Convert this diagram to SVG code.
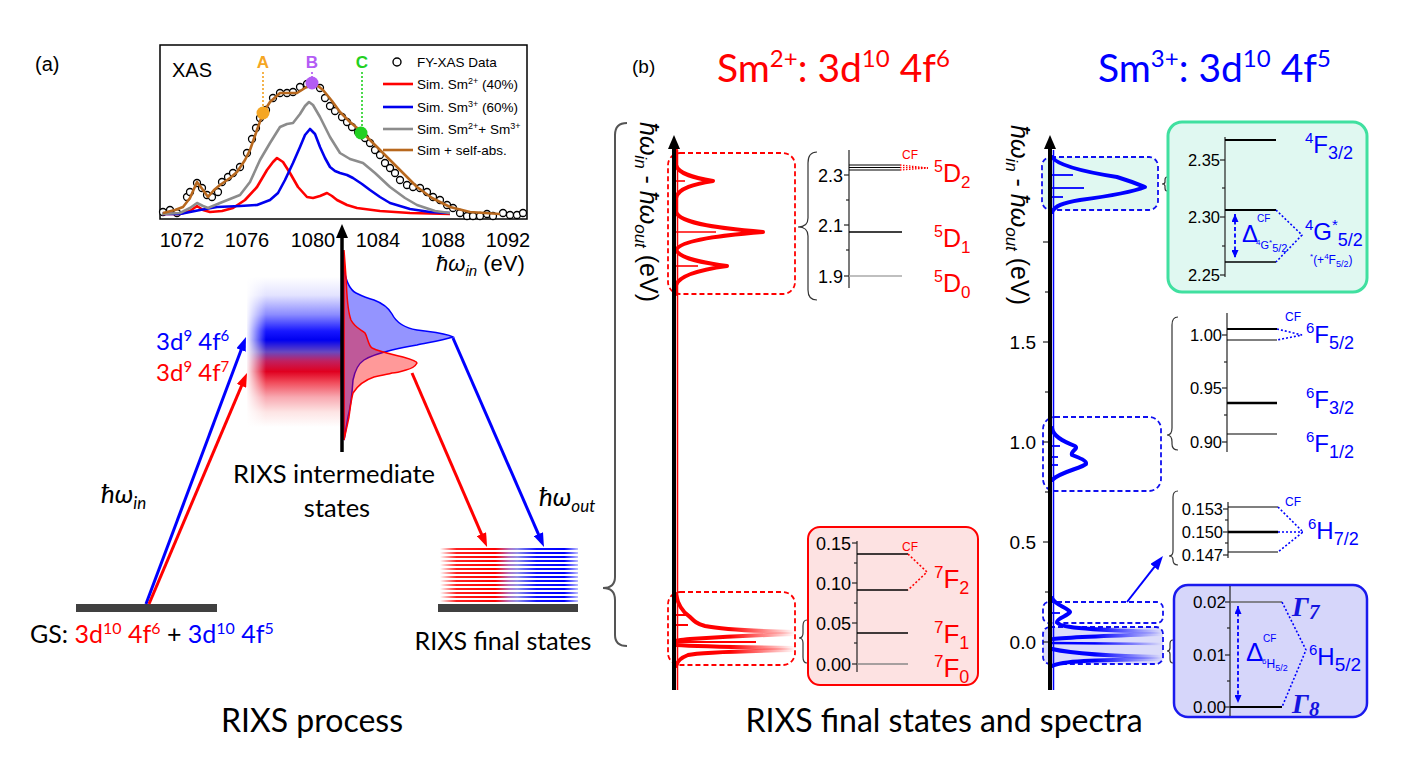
<svg xmlns="http://www.w3.org/2000/svg" width="1412" height="770" viewBox="0 0 1412 770">
<style>
.lato{font-family:Lato,"Liberation Sans",sans-serif}
.ar{font-family:"Liberation Sans",Arial,sans-serif}
.tk{font-family:"Liberation Sans",Arial,sans-serif;text-anchor:end}
.it{font-style:italic}
.dbox{stroke-width:1.8;stroke-dasharray:5,3}
.lv{stroke:#000;stroke-width:1.3}
.thk{fill:none;stroke-width:4;stroke-linejoin:round;stroke-linecap:round}
.thn{fill:none;stroke-width:1.6}
.br{fill:none;stroke:#333;stroke-width:1.2}
.dot{fill:none;stroke-width:1.6;stroke-dasharray:2,2}
.ax{stroke:#222;stroke-width:1.2}
</style>
<defs>
<marker id="ahB" viewBox="0 0 14 10" refX="3" refY="5" markerWidth="14" markerHeight="10" markerUnits="userSpaceOnUse" orient="auto"><path d="M0,0 L14,5 L0,10 z" fill="#0000ff"/></marker>
<marker id="ahR" viewBox="0 0 14 10" refX="3" refY="5" markerWidth="14" markerHeight="10" markerUnits="userSpaceOnUse" orient="auto"><path d="M0,0 L14,5 L0,10 z" fill="#ff0000"/></marker>
<marker id="ahK" viewBox="0 0 14 12" refX="3" refY="6" markerWidth="14" markerHeight="12" markerUnits="userSpaceOnUse" orient="auto"><path d="M0,0 L14,6 L0,12 z" fill="#000"/></marker>
<marker id="ahS" viewBox="0 0 8 7" refX="8" refY="3.5" markerWidth="8" markerHeight="7" markerUnits="userSpaceOnUse" orient="auto-start-reverse"><path d="M0,0 L8,3.5 L0,7 z" fill="#0000ff"/></marker>
<linearGradient id="inter" x1="0" y1="0" x2="0" y2="1">
<stop offset="0" stop-color="#ffffff"/><stop offset="0.12" stop-color="#e4e4ff"/><stop offset="0.25" stop-color="#8c8cff"/><stop offset="0.36" stop-color="#1818ff"/><stop offset="0.42" stop-color="#0000f0"/><stop offset="0.5" stop-color="#6848c0"/><stop offset="0.56" stop-color="#c02060"/><stop offset="0.63" stop-color="#e00020"/><stop offset="0.7" stop-color="#f04858"/><stop offset="0.8" stop-color="#f8a8b0"/><stop offset="0.9" stop-color="#fde4e4"/><stop offset="1" stop-color="#ffffff"/>
</linearGradient>
<linearGradient id="fadeL" x1="0" y1="0" x2="1" y2="0"><stop offset="0" stop-color="#fff" stop-opacity="1"/><stop offset="1" stop-color="#fff" stop-opacity="0"/></linearGradient>
<linearGradient id="stripe" gradientUnits="userSpaceOnUse" x1="440" y1="0" x2="578" y2="0">
<stop offset="0" stop-color="#ffffff"/><stop offset="0.12" stop-color="#ff2020"/><stop offset="0.4" stop-color="#ff0000"/><stop offset="0.5" stop-color="#b070c0"/><stop offset="0.56" stop-color="#9090e8"/><stop offset="0.7" stop-color="#1010ff"/><stop offset="0.9" stop-color="#0000ff"/><stop offset="1" stop-color="#c0c0ff"/>
</linearGradient>
<linearGradient id="fadeR" gradientUnits="userSpaceOnUse" x1="730" y1="0" x2="795" y2="0"><stop offset="0" stop-color="#ff0000"/><stop offset="1" stop-color="#ff0000" stop-opacity="0"/></linearGradient>
<linearGradient id="fadeB" gradientUnits="userSpaceOnUse" x1="1095" y1="0" x2="1162" y2="0"><stop offset="0" stop-color="#0000ff"/><stop offset="1" stop-color="#0000ff" stop-opacity="0"/></linearGradient>
</defs>
<rect width="1412" height="770" fill="#fff"/>

<!-- panel labels -->
<g id="labels">
<text x="35" y="71" class="ar" font-size="20">(a)</text>
<text x="632" y="73" class="ar" font-size="19">(b)</text>
<text x="717" y="82" class="lato" font-size="39" fill="#ff0000">Sm<tspan font-size="24" dy="-15">2+</tspan><tspan dy="15">: 3d</tspan><tspan font-size="24" dy="-15">10</tspan><tspan dy="15"> 4f</tspan><tspan font-size="24" dy="-15">6</tspan></text>
<text x="1098" y="82" class="lato" font-size="39" fill="#0000ff">Sm<tspan font-size="24" dy="-15">3+</tspan><tspan dy="15">: 3d</tspan><tspan font-size="24" dy="-15">10</tspan><tspan dy="15"> 4f</tspan><tspan font-size="24" dy="-15">5</tspan></text>
<text x="312" y="732" class="lato" font-size="32" text-anchor="middle">RIXS process</text>
<text x="944" y="732" class="lato" font-size="32" text-anchor="middle">RIXS final states and spectra</text>
</g>

<!-- XAS panel -->
<g id="xas">
<rect x="160" y="45" width="367" height="174" fill="#fff" stroke="#000" stroke-width="1.5"/>
<g fill="#fff" stroke="#000" stroke-width="1.3">
<circle cx="163" cy="212" r="3.5"/><circle cx="170" cy="210" r="3.5"/><circle cx="177" cy="213" r="3.5"/><circle cx="187" cy="197" r="3.5"/><circle cx="190" cy="192" r="3.5"/><circle cx="197" cy="183" r="3.5"/><circle cx="202" cy="188" r="3.5"/><circle cx="207" cy="195" r="3.5"/><circle cx="212" cy="197" r="3.5"/><circle cx="218" cy="192" r="3.5"/><circle cx="222" cy="182" r="3.5"/><circle cx="228" cy="177" r="3.5"/><circle cx="233" cy="173" r="3.5"/><circle cx="240" cy="167" r="3.5"/><circle cx="247" cy="153" r="3.5"/><circle cx="252" cy="139" r="3.5"/><circle cx="256" cy="128" r="3.5"/><circle cx="260" cy="118" r="3.5"/><circle cx="266" cy="110" r="3.5"/><circle cx="273" cy="98" r="3.5"/><circle cx="280" cy="93" r="3.5"/><circle cx="287" cy="93" r="3.5"/><circle cx="293" cy="92" r="3.5"/><circle cx="300" cy="87" r="3.5"/><circle cx="307" cy="84" r="3.5"/><circle cx="320" cy="88" r="3.5"/><circle cx="325" cy="98" r="3.5"/><circle cx="330" cy="106" r="3.5"/><circle cx="335" cy="111" r="3.5"/><circle cx="342" cy="117" r="3.5"/><circle cx="347" cy="122" r="3.5"/><circle cx="352" cy="127" r="3.5"/><circle cx="358" cy="132" r="3.5"/><circle cx="365" cy="138" r="3.5"/><circle cx="370" cy="143" r="3.5"/><circle cx="375" cy="150" r="3.5"/><circle cx="380" cy="155" r="3.5"/><circle cx="385" cy="163" r="3.5"/><circle cx="390" cy="168" r="3.5"/><circle cx="395" cy="173" r="3.5"/><circle cx="400" cy="180" r="3.5"/><circle cx="407" cy="185" r="3.5"/><circle cx="413" cy="187" r="3.5"/><circle cx="420" cy="188" r="3.5"/><circle cx="427" cy="192" r="3.5"/><circle cx="433" cy="197" r="3.5"/><circle cx="440" cy="200" r="3.5"/><circle cx="447" cy="205" r="3.5"/><circle cx="453" cy="208" r="3.5"/><circle cx="460" cy="213" r="3.5"/><circle cx="467" cy="216" r="3.5"/><circle cx="473" cy="216" r="3.5"/><circle cx="480" cy="216" r="3.5"/><circle cx="487" cy="214" r="3.5"/><circle cx="493" cy="216" r="3.5"/><circle cx="503" cy="213" r="3.5"/><circle cx="510" cy="215" r="3.5"/><circle cx="517" cy="215" r="3.5"/><circle cx="523" cy="213" r="3.5"/>
</g>
<g fill="none" stroke-width="2.6" stroke-linejoin="round">
<path stroke="#ff0000" d="M162,214 L180,214 L190,211 L197,206 L203,210 L210,212 L222,211 L233,208 L245,200 L257,187 L267,170 L273,162 L277,158 L283,162 L290,173 L298,187 L307,197 L313,198 L320,196 L327,193 L332,196 L337,200 L347,205 L357,208 L380,211 L410,213 L450,214"/>
<path stroke="#0000ee" d="M162,214 L180,214 L200,210 L217,207 L240,206 L257,205 L270,200 L278,193 L285,180 L293,163 L300,147 L305,135 L310,129 L315,134 L320,147 L325,158 L330,167 L335,171 L340,173 L347,175 L353,178 L362,184 L370,190 L380,197 L390,203 L410,209 L430,212 L450,213"/>
<path stroke="#8c8c8c" d="M162,214 L180,213 L190,208 L197,203 L203,206 L208,208 L220,203 L230,199 L240,195 L250,182 L260,160 L270,143 L280,127 L287,124 L293,123 L300,114 L305,106 L309,102 L313,105 L320,117 L330,137 L340,153 L350,159 L363,163 L375,173 L390,187 L405,198 L417,205 L435,211 L450,213"/>
<path stroke="#b8681e" d="M163,213 L175,210 L183,207 L190,198 L197,182 L203,190 L208,197 L214,190 L220,185 L230,178 L237,172 L245,160 L250,150 L257,130 L263,113 L270,102 L280,93 L290,93 L297,93 L305,88 L312,83 L318,86 L323,90 L332,101 L340,112 L350,122 L363,133 L376,146 L390,160 L404,174 L417,187 L432,198 L450,207 L470,212 L500,214"/>
</g>
<line x1="263" y1="72" x2="263" y2="107" stroke="#f0a020" class="dot"/>
<line x1="312" y1="72" x2="312" y2="78" stroke="#b050f0" class="dot"/>
<line x1="362" y1="72" x2="362" y2="127" stroke="#20d020" class="dot"/>
<circle cx="263" cy="113" r="6.5" fill="#f5a623"/>
<circle cx="312" cy="83" r="6.5" fill="#b35cf5"/>
<circle cx="361" cy="133" r="6.5" fill="#22d022"/>
<text x="263" y="68" class="ar" font-size="17" font-weight="bold" fill="#f5a623" text-anchor="middle">A</text>
<text x="312" y="68" class="ar" font-size="17" font-weight="bold" fill="#b35cf5" text-anchor="middle">B</text>
<text x="362" y="68" class="ar" font-size="17" font-weight="bold" fill="#22d022" text-anchor="middle">C</text>
<text x="172" y="77" class="ar" font-size="20">XAS</text>
<circle cx="397" cy="62" r="4" fill="#fff" stroke="#000" stroke-width="1.4"/>
<g stroke-width="2.6"><line x1="383" y1="84" x2="413" y2="84" stroke="#ff0000"/><line x1="383" y1="107" x2="413" y2="107" stroke="#0000ee"/><line x1="383" y1="129" x2="413" y2="129" stroke="#8c8c8c"/><line x1="383" y1="150" x2="413" y2="150" stroke="#b8681e"/></g>
<g class="ar" font-size="13.5">
<text x="417" y="67">FY-XAS Data</text>
<text x="417" y="89">Sim. Sm<tspan font-size="9" dy="-5">2+</tspan><tspan dy="5"> (40%)</tspan></text>
<text x="417" y="112">Sim. Sm<tspan font-size="9" dy="-5">3+</tspan><tspan dy="5"> (60%)</tspan></text>
<text x="417" y="134">Sim. Sm<tspan font-size="9" dy="-5">2+</tspan><tspan dy="5">+ Sm</tspan><tspan font-size="9" dy="-5">3+</tspan></text>
<text x="417" y="155">Sim + self-abs.</text>
</g>
<g class="ar" font-size="20" text-anchor="middle">
<text x="182" y="247">1072</text><text x="247" y="247">1076</text><text x="313" y="247">1080</text><text x="378" y="247">1084</text><text x="443" y="247">1088</text><text x="508" y="247">1092</text>
</g>
<text x="436" y="271" class="ar" font-size="22"><tspan class="it">ħω</tspan><tspan class="it" font-size="15" dy="5">in</tspan><tspan dy="-5"> (eV)</tspan></text>
</g>

<!-- RIXS process -->
<g id="intermediate">
<rect x="247" y="277" width="95" height="150" fill="url(#inter)"/>
<rect x="246" y="276" width="20" height="152" fill="url(#fadeL)"/>
<path d="M343,250 L344,270 C346,280 350,290 356,293 C364,297 370,299 374,300 C382,303 388,307 392,314 C396,322 405,328 417,330 C430,332 445,333 453,337 C440,341 425,343 417,345 C405,347 396,349 392,350 C380,353 370,356 364,360 C358,364 355,370 353,380 C352,395 351,405 348,417 L344,440 Z" fill="#0000ff" fill-opacity="0.42" stroke="#0000ff" stroke-width="1.5"/>
<path d="M344,250 L346,277 C347,295 347,310 351,320 C355,328 362,330 365,333 C368,338 368,345 372,348 C380,352 395,355 403,357 C410,359 417,361 417,363 C415,367 410,369 406,370 C400,372 395,373 392,373 C385,375 378,376 374,377 C365,380 358,385 353,393 C351,400 350,410 349,417 L344,440 Z" fill="#ff0000" fill-opacity="0.4" stroke="#ff0000" stroke-width="1.5"/>
<text x="156" y="350" class="lato" font-size="24" fill="#0000ff">3d<tspan font-size="15" dy="-9">9</tspan><tspan dy="9"> 4f</tspan><tspan font-size="15" dy="-9">6</tspan></text>
<text x="156" y="381" class="lato" font-size="24" fill="#ff0000">3d<tspan font-size="15" dy="-9">9</tspan><tspan dy="9"> 4f</tspan><tspan font-size="15" dy="-9">7</tspan></text>
<text x="334" y="483" class="lato" font-size="25.5" text-anchor="middle">RIXS intermediate</text>
<text x="337" y="517" class="lato" font-size="25.5" text-anchor="middle">states</text>
</g>
<g id="ground">
<rect x="76" y="604" width="141" height="8" fill="#404040"/>
<text x="30" y="643" class="lato" font-size="25">GS: <tspan fill="#ff0000">3d</tspan><tspan fill="#ff0000" font-size="16" dy="-9">10</tspan><tspan fill="#ff0000" dy="9"> 4f</tspan><tspan fill="#ff0000" font-size="16" dy="-9">6</tspan><tspan dy="9"> + </tspan><tspan fill="#0000ff">3d</tspan><tspan fill="#0000ff" font-size="16" dy="-9">10</tspan><tspan fill="#0000ff" dy="9"> 4f</tspan><tspan fill="#0000ff" font-size="16" dy="-9">5</tspan></text>
<text x="101" y="503" class="lato it" font-size="26">ħω<tspan font-size="17" dy="6">in</tspan></text>
</g>
<g id="final">
<g stroke="url(#stripe)" stroke-width="2">
<line x1="440" y1="549" x2="578" y2="549"/><line x1="440" y1="553" x2="578" y2="553"/><line x1="440" y1="557" x2="578" y2="557"/><line x1="440" y1="561" x2="578" y2="561"/><line x1="440" y1="565" x2="578" y2="565"/><line x1="440" y1="569" x2="578" y2="569"/><line x1="440" y1="573" x2="578" y2="573"/><line x1="440" y1="577" x2="578" y2="577"/><line x1="440" y1="581" x2="578" y2="581"/><line x1="440" y1="585" x2="578" y2="585"/><line x1="440" y1="589" x2="578" y2="589"/><line x1="440" y1="593" x2="578" y2="593"/><line x1="440" y1="597" x2="578" y2="597"/><line x1="440" y1="601" x2="578" y2="601"/>
</g>
<rect x="438" y="604" width="140" height="8" fill="#404040"/>
<text x="503" y="650" class="lato" font-size="25" text-anchor="middle">RIXS final states</text>
<text x="539" y="506" class="lato it" font-size="26">ħω<tspan font-size="17" dy="6">out</tspan></text>
</g>

<!-- big brace -->
<g id="bigbrace">
<path d="M627,123 Q615,123 615,135 L615,577 Q615,588 603,588 Q615,588 615,600 L615,635 Q615,646 627,646" fill="none" stroke="#555" stroke-width="2"/>
</g>

<!-- Sm2+ panel -->
<g id="sm2-spectrum">
<text transform="translate(640,212) rotate(90)" class="ar" font-size="25" text-anchor="middle"><tspan class="it">ħω</tspan><tspan class="it" font-size="17" dy="5">in</tspan><tspan dy="-5"> - </tspan><tspan class="it">ħω</tspan><tspan class="it" font-size="17" dy="5">out</tspan><tspan dy="-5"> (eV)</tspan></text>
<rect x="668" y="153" width="127" height="141" rx="12" fill="none" stroke="#ff0000" class="dbox"/>
<rect x="668" y="592" width="127" height="73" rx="12" fill="none" stroke="#ff0000" class="dbox"/>
<line x1="677.5" y1="150" x2="677.5" y2="690" stroke="#ff0000" stroke-width="1.5"/>
<path class="thk" stroke="#ff0000" d="M676,150 L676,165 C678,174 695,178 713,181 C695,184 678,188 676,198 L676,212 C680,224 725,229 763,232 C725,235 680,240 676,250 C680,259 705,263 727,266 C705,269 680,274 676,285 L676,294"/>
<g stroke="#ff0000" stroke-width="1.6"><line x1="676" y1="181" x2="685" y2="181"/><line x1="676" y1="232" x2="716" y2="232"/><line x1="676" y1="266" x2="698" y2="266"/></g>
<path class="thk" stroke="url(#fadeR)" d="M676,594 C678,606 684,613 690,617 C694,621 697,624 705,626 C720,629 750,631 795,632"/>
<path class="thk" stroke="url(#fadeR)" d="M795,634 C760,635 720,637 690,639 C682,640 678,640 676,641"/>
<path class="thk" stroke="url(#fadeR)" d="M676,645 C690,646 720,647 795,648"/>
<path class="thk" stroke="url(#fadeR)" d="M795,650 C740,651 700,652 688,655 C680,658 677,662 676,666"/>
<g stroke="#ff0000" stroke-width="2"><line x1="676" y1="642" x2="756" y2="642"/><line x1="676" y1="615" x2="686" y2="615"/><line x1="676" y1="625" x2="688" y2="625"/></g>
</g>
<g id="sm2-high">
<path class="br" d="M817,152 Q808,152 808,163 L808,218 Q808,227 798,227 Q808,227 808,236 L808,290 Q808,300 817,300"/>
<line x1="849" y1="150" x2="849" y2="288" class="ax"/>
<g class="ax"><line x1="844" y1="175" x2="849" y2="175"/><line x1="844" y1="225" x2="849" y2="225"/><line x1="844" y1="276" x2="849" y2="276"/><line x1="846" y1="200" x2="849" y2="200"/><line x1="846" y1="250" x2="849" y2="250"/></g>
<g class="tk" font-size="18"><text x="843" y="182">2.3</text><text x="843" y="232">2.1</text><text x="843" y="283">1.9</text></g>
<g stroke="#000" stroke-width="1"><line x1="849" y1="165" x2="900" y2="165"/><line x1="849" y1="167.5" x2="900" y2="167.5"/><line x1="849" y1="170" x2="900" y2="170"/></g>
<g stroke="#ff0000" stroke-width="1.3" stroke-dasharray="1.5,1.5"><line x1="900" y1="165" x2="928" y2="168"/><line x1="900" y1="167.5" x2="928" y2="168"/><line x1="900" y1="170" x2="928" y2="168"/></g>
<text x="902" y="159" class="ar" font-size="12" fill="#ff0000">CF</text>
<line x1="849" y1="232" x2="902" y2="232" stroke="#000" stroke-width="1.5"/>
<line x1="849" y1="276" x2="902" y2="276" stroke="#aaa" stroke-width="1.5"/>
<g class="ar" font-size="25" fill="#ff0000">
<text x="934" y="182"><tspan font-size="16" dy="-10">5</tspan><tspan dy="10">D</tspan><tspan font-size="17" dy="6">2</tspan></text>
<text x="934" y="247"><tspan font-size="16" dy="-10">5</tspan><tspan dy="10">D</tspan><tspan font-size="17" dy="6">1</tspan></text>
<text x="934" y="292"><tspan font-size="16" dy="-10">5</tspan><tspan dy="10">D</tspan><tspan font-size="17" dy="6">0</tspan></text>
</g>
</g>
<g id="sm2-low">
<path class="br" d="M807,620 Q803,620 803,626 L803,633 Q803,638 799,638 Q803,638 803,643 L803,657 Q803,663 807,663"/>
<rect x="808" y="527" width="170" height="158" rx="12" fill="#fde2e2" stroke="#ff0000" stroke-width="2"/>
<line x1="857" y1="541" x2="857" y2="672" class="ax"/>
<g class="ax"><line x1="852" y1="543" x2="857" y2="543"/><line x1="852" y1="583" x2="857" y2="583"/><line x1="852" y1="623" x2="857" y2="623"/><line x1="852" y1="664" x2="857" y2="664"/><line x1="854" y1="563" x2="857" y2="563"/><line x1="854" y1="603" x2="857" y2="603"/><line x1="854" y1="643" x2="857" y2="643"/></g>
<g class="tk" font-size="18"><text x="851" y="550">0.15</text><text x="851" y="590">0.10</text><text x="851" y="630">0.05</text><text x="851" y="671">0.00</text></g>
<g stroke="#000" stroke-width="1.3"><line x1="857" y1="554" x2="908" y2="554"/><line x1="857" y1="590" x2="908" y2="590"/><line x1="857" y1="633" x2="908" y2="633"/></g>
<line x1="857" y1="664" x2="908" y2="664" stroke="#888" stroke-width="1.3"/>
<path d="M908,554 L927,572 L908,590" fill="none" stroke="#ff0000" class="dot" stroke-width="1.5"/>
<text x="902" y="551" class="ar" font-size="12" fill="#ff0000">CF</text>
<g class="ar" font-size="26" fill="#ff0000">
<text x="934" y="588"><tspan font-size="17" dy="-10">7</tspan><tspan dy="10">F</tspan><tspan font-size="18" dy="6">2</tspan></text>
<text x="934" y="643"><tspan font-size="17" dy="-10">7</tspan><tspan dy="10">F</tspan><tspan font-size="18" dy="6">1</tspan></text>
<text x="934" y="677"><tspan font-size="17" dy="-10">7</tspan><tspan dy="10">F</tspan><tspan font-size="18" dy="6">0</tspan></text>
</g>
</g>

<!-- Sm3+ panel -->
<g id="sm3-spectrum">
<text transform="translate(1011,215) rotate(90)" class="ar" font-size="25" text-anchor="middle"><tspan class="it">ħω</tspan><tspan class="it" font-size="17" dy="5">in</tspan><tspan dy="-5"> - </tspan><tspan class="it">ħω</tspan><tspan class="it" font-size="17" dy="5">out</tspan><tspan dy="-5"> (eV)</tspan></text>
<rect x="1042" y="157" width="116" height="53" rx="9" fill="#e0f8f1" stroke="#1010f0" class="dbox"/>
<rect x="1043" y="417" width="118" height="74" rx="12" fill="none" stroke="#1010f0" class="dbox"/>
<rect x="1043" y="602" width="120" height="21" rx="6" fill="#fff" stroke="#1010f0" class="dbox"/>
<rect x="1043" y="627" width="120" height="37" rx="7" fill="#dcdcfa" stroke="#1010f0" class="dbox"/>
<g class="ax"><line x1="1043" y1="242" x2="1048" y2="242"/><line x1="1043" y1="342" x2="1048" y2="342"/><line x1="1043" y1="442" x2="1048" y2="442"/><line x1="1043" y1="542" x2="1048" y2="542"/><line x1="1043" y1="642" x2="1048" y2="642"/><line x1="1045" y1="292" x2="1048" y2="292"/><line x1="1045" y1="392" x2="1048" y2="392"/><line x1="1045" y1="492" x2="1048" y2="492"/><line x1="1045" y1="592" x2="1048" y2="592"/></g>
<g class="tk" font-size="19"><text x="1036" y="349">1.5</text><text x="1036" y="449">1.0</text><text x="1036" y="549">0.5</text><text x="1036" y="649">0.0</text></g>
<line x1="1053.5" y1="150" x2="1053.5" y2="690" stroke="#0000ff" stroke-width="1.5"/>
<path class="thk" stroke="#0000ff" d="M1052,157 C1058,166 1085,172 1117,177 C1133,182 1140,185 1145,187 C1135,191 1110,196 1080,200 C1062,203 1055,206 1052,212"/>
<g stroke="#0000ff" stroke-width="1.8"><line x1="1052" y1="175" x2="1073" y2="175"/><line x1="1052" y1="188" x2="1084" y2="188"/><line x1="1052" y1="197" x2="1063" y2="197"/></g>
<path class="thk" stroke="#0000ff" d="M1052,428 C1053,436 1062,441 1075,446 C1079,449 1070,451 1072,455 C1080,458 1087,461 1086,464 C1082,468 1060,472 1052,480"/>
<g stroke="#0000ff" stroke-width="1.8"><line x1="1052" y1="446" x2="1060" y2="446"/><line x1="1052" y1="457" x2="1058" y2="457"/><line x1="1052" y1="465" x2="1058" y2="465"/></g>
<path class="thk" stroke="url(#fadeB)" d="M1052,598 C1055,605 1068,608 1070,612 C1068,616 1057,618 1057,622 C1058,627 1080,630 1162,632"/>
<path class="thk" stroke="url(#fadeB)" d="M1162,634 C1100,636 1070,637 1053,639"/>
<path stroke="url(#fadeB)" stroke-width="2.5" fill="none" d="M1052,643 L1162,644"/>
<path class="thk" stroke="url(#fadeB)" d="M1052,649 C1070,653 1095,656 1162,657"/>
<path class="thk" stroke="url(#fadeB)" d="M1162,659 C1090,660 1062,661 1052,666"/>
<line x1="1052" y1="613" x2="1060" y2="613" stroke="#0000ff" stroke-width="1.8"/>
</g>
<g id="sm3-4G">
<path class="br" d="M1167,177 Q1165,177 1165,180 L1165,182 Q1165,184 1162,184 Q1165,184 1165,186 L1165,188 Q1165,191 1167,191"/>
<rect x="1168" y="122" width="199" height="170" rx="14" fill="#e0f8f1" stroke="#40e0a0" stroke-width="3"/>
<line x1="1225" y1="137" x2="1225" y2="277" class="ax"/>
<g class="ax"><line x1="1220" y1="160" x2="1225" y2="160"/><line x1="1220" y1="217" x2="1225" y2="217"/><line x1="1220" y1="275" x2="1225" y2="275"/><line x1="1222" y1="188" x2="1225" y2="188"/><line x1="1222" y1="246" x2="1225" y2="246"/></g>
<g class="tk" font-size="16.5"><text x="1220" y="166">2.35</text><text x="1220" y="223">2.30</text><text x="1220" y="281">2.25</text></g>
<g stroke="#000" stroke-width="1.8"><line x1="1225" y1="140" x2="1276" y2="140"/><line x1="1225" y1="210" x2="1276" y2="210"/></g>
<line x1="1225" y1="262" x2="1276" y2="262" stroke="#000" stroke-width="1.3"/>
<path d="M1276,210 L1302,235 L1276,262" fill="none" stroke="#0000ff" class="dot" stroke-width="1.5"/>
<line x1="1235" y1="214" x2="1235" y2="258" stroke="#0000ff" stroke-width="1.8" stroke-dasharray="4,2.5" marker-start="url(#ahS)" marker-end="url(#ahS)"/>
<text x="1242" y="242" class="ar" font-size="24" fill="#0000ff">Δ</text>
<text x="1257" y="222" class="ar" font-size="10" fill="#0000ff">CF</text>
<text x="1256" y="249" class="ar" font-size="11" fill="#0000ff"><tspan font-size="8" dy="-4">4</tspan><tspan dy="4">G</tspan><tspan font-size="8" dy="-4">*</tspan><tspan dy="7">5/2</tspan></text>
<g class="ar" font-size="24" fill="#0000ff">
<text x="1305" y="153"><tspan font-size="15" dy="-10">4</tspan><tspan dy="10">F</tspan><tspan font-size="18" dy="6">3/2</tspan></text>
<text x="1305" y="240"><tspan font-size="15" dy="-10">4</tspan><tspan dy="10">G</tspan><tspan font-size="15" dy="-10">*</tspan><tspan font-size="18" dy="16">5/2</tspan></text>
</g>
<text x="1310" y="264" class="ar" font-size="12" fill="#0000ff"><tspan font-size="8" dy="-5">*</tspan><tspan dy="5">(+</tspan><tspan font-size="8" dy="-5">4</tspan><tspan dy="5">F</tspan><tspan font-size="9" dy="3">5/2</tspan><tspan dy="-3">)</tspan></text>
</g>
<g id="sm3-6F">
<path class="br" d="M1178,317 Q1172,317 1172,325 L1172,428 Q1172,435 1167,435 Q1172,435 1172,442 L1172,444 Q1172,450 1178,450"/>
<line x1="1227" y1="313" x2="1227" y2="452" class="ax"/>
<g class="ax"><line x1="1222" y1="335" x2="1227" y2="335"/><line x1="1222" y1="388" x2="1227" y2="388"/><line x1="1222" y1="442" x2="1227" y2="442"/><line x1="1224" y1="362" x2="1227" y2="362"/><line x1="1224" y1="415" x2="1227" y2="415"/></g>
<g class="tk" font-size="16.5"><text x="1222" y="341">1.00</text><text x="1222" y="394">0.95</text><text x="1222" y="448">0.90</text></g>
<line x1="1227" y1="329" x2="1277" y2="329" stroke="#000" stroke-width="2"/>
<line x1="1227" y1="340" x2="1277" y2="340" stroke="#000" stroke-width="1.2"/>
<line x1="1227" y1="403" x2="1277" y2="403" stroke="#000" stroke-width="2.5"/>
<line x1="1227" y1="434" x2="1277" y2="434" stroke="#000" stroke-width="1.2"/>
<path d="M1277,329 L1302,335 L1277,340" fill="none" stroke="#0000ff" class="dot" stroke-width="1.5"/>
<text x="1285" y="321" class="ar" font-size="12" fill="#0000ff">CF</text>
<g class="ar" font-size="24" fill="#0000ff">
<text x="1306" y="343"><tspan font-size="15" dy="-10">6</tspan><tspan dy="10">F</tspan><tspan font-size="18" dy="6">5/2</tspan></text>
<text x="1306" y="408"><tspan font-size="15" dy="-10">6</tspan><tspan dy="10">F</tspan><tspan font-size="18" dy="6">3/2</tspan></text>
<text x="1306" y="452"><tspan font-size="15" dy="-10">6</tspan><tspan dy="10">F</tspan><tspan font-size="18" dy="6">1/2</tspan></text>
</g>
</g>
<g id="sm3-6H72">
<path class="br" d="M1178,491 Q1173,491 1173,497 L1173,551 Q1173,556 1169,556 Q1173,556 1173,560 L1173,560 Q1173,565 1178,565"/>
<line x1="1228" y1="502" x2="1228" y2="558" class="ax"/>
<g class="ax"><line x1="1223" y1="509" x2="1228" y2="509"/><line x1="1223" y1="532" x2="1228" y2="532"/><line x1="1223" y1="555" x2="1228" y2="555"/><line x1="1225" y1="520" x2="1228" y2="520"/><line x1="1225" y1="543" x2="1228" y2="543"/></g>
<g class="tk" font-size="16.5"><text x="1223" y="515">0.153</text><text x="1223" y="538">0.150</text><text x="1223" y="561">0.147</text></g>
<line x1="1228" y1="507" x2="1278" y2="507" stroke="#000" stroke-width="1.2"/>
<line x1="1228" y1="532" x2="1278" y2="532" stroke="#000" stroke-width="2.5"/>
<line x1="1228" y1="552" x2="1278" y2="552" stroke="#000" stroke-width="1.2"/>
<path d="M1278,507 L1303,532 L1278,552 M1278,532 L1303,532" fill="none" stroke="#0000ff" class="dot" stroke-width="1.5"/>
<text x="1285" y="506" class="ar" font-size="12" fill="#0000ff">CF</text>
<text x="1308" y="539" class="ar" font-size="24" fill="#0000ff"><tspan font-size="15" dy="-10">6</tspan><tspan dy="10">H</tspan><tspan font-size="18" dy="6">7/2</tspan></text>
</g>
<g id="sm3-6H52">
<path class="br" d="M1173,640 Q1170,640 1170,644 L1170,648 Q1170,651 1167,651 Q1170,651 1170,654 L1170,659 Q1170,663 1173,663"/>
<rect x="1174" y="585" width="193" height="132" rx="14" fill="#d6d6fa" stroke="#1a1aee" stroke-width="2.5"/>
<line x1="1230" y1="586" x2="1230" y2="716" class="ax"/>
<g class="ax"><line x1="1225" y1="602" x2="1230" y2="602"/><line x1="1225" y1="655" x2="1230" y2="655"/><line x1="1225" y1="707" x2="1230" y2="707"/><line x1="1227" y1="628" x2="1230" y2="628"/><line x1="1227" y1="681" x2="1230" y2="681"/></g>
<g class="tk" font-size="17"><text x="1226" y="608">0.02</text><text x="1226" y="661">0.01</text><text x="1226" y="713">0.00</text></g>
<line x1="1230" y1="602" x2="1282" y2="602" stroke="#666" stroke-width="1.5"/>
<line x1="1230" y1="707" x2="1282" y2="707" stroke="#000" stroke-width="2"/>
<path d="M1282,602 L1306,650 L1282,707" fill="none" stroke="#0000ff" class="dot" stroke-width="1.5"/>
<line x1="1238" y1="606" x2="1238" y2="703" stroke="#0000ff" stroke-width="1.8" stroke-dasharray="4,2.5" marker-start="url(#ahS)" marker-end="url(#ahS)"/>
<text x="1246" y="661" class="ar" font-size="26" fill="#0000ff">Δ</text>
<text x="1263" y="642" class="ar" font-size="10" fill="#0000ff">CF</text>
<text x="1262" y="668" class="ar" font-size="12" fill="#0000ff"><tspan font-size="8" dy="-4">6</tspan><tspan dy="4">H</tspan><tspan font-size="9" dy="3">5/2</tspan></text>
<text x="1309" y="665" class="ar" font-size="24" fill="#0000ff"><tspan font-size="15" dy="-10">6</tspan><tspan dy="10">H</tspan><tspan font-size="19" dy="6">5/2</tspan></text>
<text x="1292" y="616" font-family="'Liberation Serif',serif" font-weight="bold" font-style="italic" font-size="28" fill="#1414e0">Γ<tspan font-size="21" dy="3">7</tspan></text>
<text x="1292" y="713" font-family="'Liberation Serif',serif" font-weight="bold" font-style="italic" font-size="28" fill="#1414e0">Γ<tspan font-size="21" dy="3">8</tspan></text>
</g>

<!-- connectors -->
<g id="connectors" fill="none">
<line x1="342" y1="452" x2="342" y2="235" stroke="#000" stroke-width="3.5" marker-end="url(#ahK)"/>
<line x1="146" y1="604" x2="242.1" y2="347.3" stroke="#0000ff" stroke-width="3" marker-end="url(#ahB)"/>
<line x1="149" y1="604" x2="242.7" y2="383.1" stroke="#ff0000" stroke-width="3" marker-end="url(#ahR)"/>
<line x1="412" y1="373" x2="482.7" y2="536.9" stroke="#ff0000" stroke-width="3" marker-end="url(#ahR)"/>
<line x1="453" y1="338" x2="539.6" y2="536.9" stroke="#0000ff" stroke-width="3" marker-end="url(#ahB)"/>
<line x1="674" y1="690" x2="674" y2="146" stroke="#000" stroke-width="4" marker-end="url(#ahK)"/>
<line x1="1050" y1="690" x2="1050" y2="146" stroke="#000" stroke-width="4" marker-end="url(#ahK)"/>
<line x1="1127" y1="602" x2="1156.2" y2="564.7" stroke="#0000ff" stroke-width="2" marker-end="url(#ahB)"/>
</g>
</svg>
